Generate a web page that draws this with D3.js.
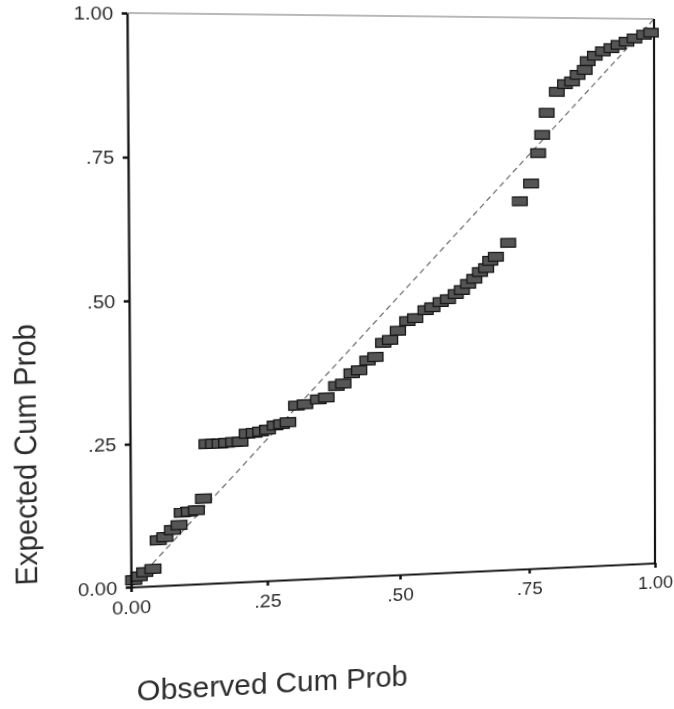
<!DOCTYPE html>
<html><head><meta charset="utf-8">
<script src="https://cdn.jsdelivr.net/npm/d3@7"></script>
<style>
html,body{margin:0;padding:0;background:#fff;overflow:hidden;width:674px;height:709px}
#chart{position:absolute;left:0;top:0;transform-origin:0 0;overflow:visible}
text{font-family:"Liberation Sans",Arial,sans-serif;fill:#2b2b2b}
</style></head><body>
<svg id="chart" width="700" height="760"></svg>
<script>
// Observed cumulative probability (x) and expected cumulative probability (y)
const observed=[0.005,0.015,0.025,0.04,0.05,0.062,0.076,0.088,0.094,0.107,0.12,0.133,
0.14,0.152,0.164,0.176,0.189,0.201,0.214,0.227,0.239,0.252,0.266,0.278,0.29,
0.306,0.322,0.347,0.362,0.381,0.394,0.41,0.424,0.44,0.455,0.47,0.483,0.498,
0.516,0.531,0.551,0.564,0.58,0.594,0.609,0.621,0.633,0.645,0.656,0.668,0.676,0.687,
0.711,0.734,0.756,0.77,0.778,0.787,0.807,0.823,0.837,0.848,0.862,0.868,0.882,
0.898,0.915,0.929,0.945,0.961,0.98,0.994];
const expected=[0.012,0.018,0.025,0.03,0.08,0.085,0.097,0.105,0.127,0.128,0.13,0.15,
0.246,0.246,0.246,0.247,0.248,0.248,0.262,0.263,0.265,0.268,0.275,0.277,0.28,
0.309,0.311,0.319,0.322,0.342,0.346,0.364,0.369,0.386,0.392,0.417,0.422,0.438,
0.455,0.46,0.474,0.479,0.488,0.493,0.502,0.509,0.52,0.529,0.541,0.548,0.561,0.568,
0.593,0.668,0.7,0.755,0.788,0.828,0.866,0.88,0.885,0.897,0.906,0.922,0.932,
0.94,0.946,0.952,0.958,0.964,0.971,0.975];
const xTicks=[0,0.25,0.5,0.75,1];
const xTickLabels=["0.00",".25",".50",".75","1.00"];
const yTicks=[0,0.25,0.5,0.75,1];
const yTickLabels=["0.00",".25",".50",".75","1.00"];
const refLine=[0,1];

const L=131,R=655,T=13,B=587;
const svg=d3.select("#chart");
const x=d3.scaleLinear().domain([0,1]).range([L,R]);
const y=d3.scaleLinear().domain([0,1]).range([B,T]);

// frame
svg.append("line").attr("x1",L).attr("x2",R).attr("y1",T).attr("y2",T)
  .attr("stroke","#a0a0a0").attr("stroke-width",1.6);
svg.append("line").attr("x1",R).attr("x2",R).attr("y1",T).attr("y2",B)
  .attr("stroke","#111").attr("stroke-width",2.2);

// reference diagonal
svg.append("line").attr("x1",x(refLine[0])).attr("y1",y(refLine[0]))
  .attr("x2",x(refLine[1])).attr("y2",y(refLine[1]))
  .attr("stroke","#666").attr("stroke-width",1.2).attr("stroke-dasharray","6,4");

// points
const pts=observed.map((o,i)=>({o,e:expected[i]}));
svg.append("g").selectAll("rect").data(pts).join("rect")
  .attr("x",d=>x(d.o)-7.5).attr("y",d=>y(d.e)-4.5)
  .attr("width",15).attr("height",9)
  .attr("fill","#555").attr("stroke","#151515").attr("stroke-width",1.3);

// axes
const yAxis=d3.axisLeft(y).tickValues(yTicks).tickFormat((d,i)=>yTickLabels[i])
  .tickSize(5).tickSizeOuter(0).tickPadding(8);
const gy=svg.append("g").attr("transform",`translate(${L},0)`).call(yAxis);
const xAxis=d3.axisBottom(x).tickValues(xTicks).tickFormat((d,i)=>xTickLabels[i])
  .tickSize(5).tickSizeOuter(0).tickPadding(9);
const gx=svg.append("g").attr("transform",`translate(0,${B})`).call(xAxis);
[gx,gy].forEach(g=>{
  g.select(".domain").attr("stroke","#111").attr("stroke-width",2.2);
  g.selectAll(".tick line").attr("stroke","#111").attr("stroke-width",2.5);
  g.selectAll(".tick text").attr("font-size",19).attr("fill","#2b2b2b")
    .attr("font-family","Liberation Sans, Arial, sans-serif");
});

// axis titles
svg.append("text").attr("x",268).attr("y",702).attr("text-anchor","middle")
  .attr("font-size",29).text("Observed Cum Prob");
svg.append("text").attr("transform","translate(43,451) rotate(-90)")
  .attr("text-anchor","middle").attr("font-size",29).text("Expected Cum Prob");

// perspective of the photographed page: map the flat plot corners onto the photo corners
function homography(src,dst){
  const A=[],b=[];
  for(let i=0;i<4;i++){
    const [sx,sy]=src[i],[dx,dy]=dst[i];
    A.push([sx,sy,1,0,0,0,-sx*dx,-sy*dx]);b.push(dx);
    A.push([0,0,0,sx,sy,1,-sx*dy,-sy*dy]);b.push(dy);
  }
  const n=8;
  for(let c=0;c<n;c++){
    let p=c;for(let r=c+1;r<n;r++) if(Math.abs(A[r][c])>Math.abs(A[p][c])) p=r;
    [A[c],A[p]]=[A[p],A[c]];[b[c],b[p]]=[b[p],b[c]];
    for(let r=0;r<n;r++){ if(r===c) continue;
      const f=A[r][c]/A[c][c];
      for(let k=c;k<n;k++) A[r][k]-=f*A[c][k];
      b[r]-=f*b[c];
    }
  }
  return b.map((v,i)=>v/A[i][i]);
}
const h=homography([[L,T],[R,T],[L,B],[R,B]],[[127,13],[654,19],[131,587],[655,563]]);
document.getElementById("chart").style.transform=
  `matrix3d(${h[0]},${h[3]},0,${h[6]},${h[1]},${h[4]},0,${h[7]},0,0,1,0,${h[2]},${h[5]},0,1)`;
</script>
</body></html>
